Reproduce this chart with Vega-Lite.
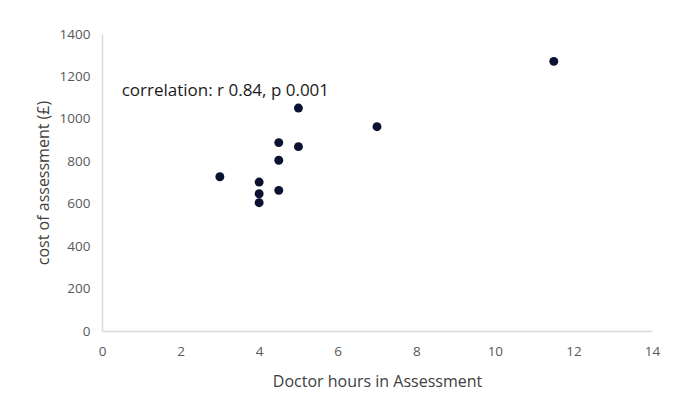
{
  "$schema": "https://vega.github.io/schema/vega-lite/v6.json",
  "width": 550,
  "height": 297,
  "autosize": {"type": "none"},
  "padding": {"left": 102, "top": 34, "right": 22, "bottom": 82},
  "background": "white",
  "config": {
    "view": {"stroke": null},
    "font": "Open Sans"
  },
  "layer": [
    {
      "data": {
        "values": [
          {"hours": 3, "cost": 727},
          {"hours": 4, "cost": 702},
          {"hours": 4, "cost": 647},
          {"hours": 4, "cost": 605},
          {"hours": 4.5, "cost": 888},
          {"hours": 4.5, "cost": 805},
          {"hours": 4.5, "cost": 663},
          {"hours": 5, "cost": 1051},
          {"hours": 5, "cost": 869},
          {"hours": 7, "cost": 963},
          {"hours": 11.5, "cost": 1271}
        ]
      },
      "mark": {"type": "point", "filled": true, "opacity": 1, "size": 80, "color": "#0b1130"},
      "encoding": {
        "x": {
          "field": "hours", "type": "quantitative",
          "scale": {"domain": [0, 14], "nice": false, "zero": true},
          "axis": {
            "title": "Doctor hours in Assessment",
            "values": [0, 2, 4, 6, 8, 10, 12, 14],
            "format": "d",
            "grid": false, "ticks": false,
            "domainColor": "#d9d9d9", "domainWidth": 1.5,
            "labelColor": "#595959", "labelFontSize": 13.5, "labelPadding": 13,
            "labelFlush": false,
            "titleColor": "#404040", "titleFontSize": 16, "titleFontWeight": "normal",
            "titlePadding": 16
          }
        },
        "y": {
          "field": "cost", "type": "quantitative",
          "scale": {"domain": [0, 1400], "nice": false},
          "axis": {
            "title": "cost of assessment (£)",
            "values": [0, 200, 400, 600, 800, 1000, 1200, 1400],
            "format": "d",
            "grid": false, "ticks": false,
            "domainColor": "#d9d9d9", "domainWidth": 1.5,
            "labelColor": "#595959", "labelFontSize": 13.5, "labelPadding": 12,
            "labelFlush": false,
            "titleColor": "#404040", "titleFontSize": 16, "titleFontWeight": "normal",
            "titlePadding": 8
          }
        }
      }
    },
    {
      "data": {"values": [{"hours": 0.5, "cost": 1131, "label": "correlation: r 0.84, p 0.001"}]},
      "mark": {"type": "text", "align": "left", "baseline": "middle", "fontSize": 17, "color": "#1a1a1a"},
      "encoding": {
        "x": {"field": "hours", "type": "quantitative"},
        "y": {"field": "cost", "type": "quantitative"},
        "text": {"field": "label"}
      }
    }
  ]
}
